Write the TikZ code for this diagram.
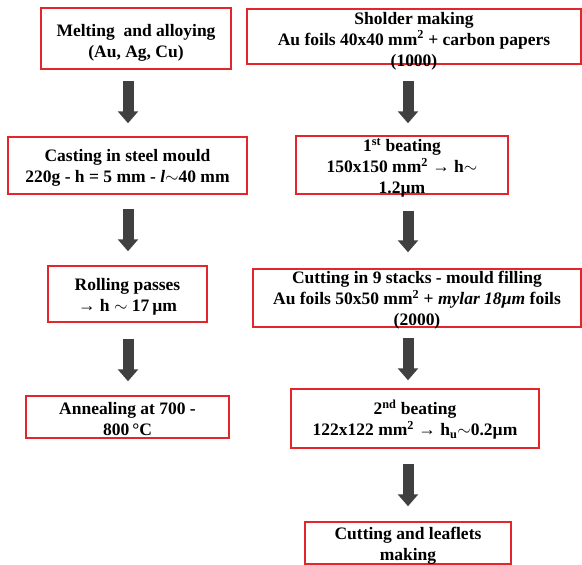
\documentclass[tikz,border=0pt]{standalone}
\usepackage{fontspec}
\setmainfont{Liberation Serif}
\usepackage{xcolor}
\usetikzlibrary{arrows.meta,positioning}
\definecolor{boxred}{HTML}{E3262B}
\definecolor{arrowgray}{HTML}{404040}

\begin{document}
\begin{tikzpicture}[
  x=1pt,
  y=-1pt,
  stepbox/.style={rectangle, draw=boxred, line width=1.5pt, inner sep=0pt},
  steptext/.style={align=center, inner sep=0pt, font=\bfseries\fontsize{17.5}{21}\selectfont},
  flow/.style={draw=arrowgray, line width=11pt, -{Triangle[width=20pt,length=12pt]}}
]
\useasboundingbox (0,0) rectangle (582,565);
\coordinate (lx) at (128,0);
\coordinate (rx) at (408,0);

% left column
\node[stepbox, minimum width=190pt, minimum height=61pt] (melt) at (136,38.5) {};
\node[steptext, yshift=-4.5pt] (melt-t) at (melt.center) {Melting\ \ and alloying\\(Au, Ag, Cu)};
\node[stepbox, minimum width=239pt, minimum height=57pt] (cast) at (127.5,165.5) {};
\node[steptext, yshift=-2.5pt] (cast-t) at (cast.center) {Casting in steel mould\\220g - h = 5 mm - \textit{l}$\sim$40 mm};
\node[stepbox, minimum width=159pt, minimum height=56pt] (roll) at (127.5,294) {};
\node[steptext, yshift=-3pt] (roll-t) at (roll.center) {Rolling passes\\→ h $\sim$ 17\,µm};
\node[stepbox, minimum width=203pt, minimum height=42pt] (anneal) at (127.5,417) {};
\node[steptext, yshift=-2pt] (anneal-t) at (anneal.center) {Annealing at 700 -\\800\,°C};

% right column
\node[stepbox, minimum width=334pt, minimum height=55pt] (shold) at (414,36.5) {};
\node[steptext, yshift=-4.5pt] (shold-t) at (shold.center) {Sholder making\\Au foils 40x40 mm\textsuperscript{2} + carbon papers\\(1000)};
\node[stepbox, minimum width=212pt, minimum height=58pt] (beat1) at (402,165) {};
\node[steptext, yshift=-3pt] (beat1-t) at (beat1.center) {1\textsuperscript{st} beating\\150x150 mm\textsuperscript{2} → h$\sim$\\1.2µm};
\node[stepbox, minimum width=328pt, minimum height=58pt] (cut) at (417,298) {};
\node[steptext, yshift=-2pt] (cut-t) at (cut.center) {Cutting in 9 stacks - mould filling\\Au foils 50x50 mm\textsuperscript{2} + \textit{mylar 18µm} foils\\(2000)};
\node[stepbox, minimum width=248pt, minimum height=59pt] (beat2) at (415,418.5) {};
\node[steptext, yshift=-1pt] (beat2-t) at (beat2.center) {2\textsuperscript{nd} beating\\122x122 mm\textsuperscript{2} → h\textsubscript{u}$\sim$0.2µm};
\node[stepbox, minimum width=206pt, minimum height=42pt] (leaf) at (408,543) {};
\node[steptext, yshift=-3pt] (leaf-t) at (leaf.center) {Cutting and leaflets\\making};

\draw[flow, shorten <=11pt, shorten >=13pt] (melt.south -| lx) -- (cast.north -| lx);
\draw[flow, shorten <=14pt, shorten >=14pt] (cast.south -| lx) -- (roll.north -| lx);
\draw[flow, shorten <=16pt, shorten >=14pt] (roll.south -| lx) -- (anneal.north -| lx);
\draw[flow, shorten <=16pt, shorten >=12pt] (shold.south -| rx) -- (beat1.north -| rx);
\draw[flow, shorten <=16pt, shorten >=16pt] (beat1.south -| rx) -- (cut.north -| rx);
\draw[flow, shorten <=10pt, shorten >=8pt] (cut.south -| rx) -- (beat2.north -| rx);
\draw[flow, shorten <=15pt, shorten >=15pt] (beat2.south -| rx) -- (leaf.north -| rx);
\end{tikzpicture}
\end{document}
